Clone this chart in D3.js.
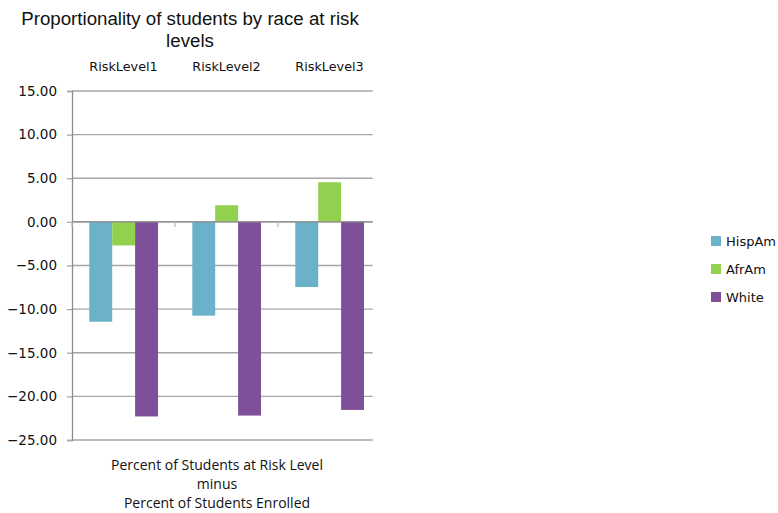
<!DOCTYPE html>
<html>
<head>
<meta charset="utf-8">
<script src="https://cdn.jsdelivr.net/npm/d3@7"></script>
<style>
body { margin: 0; background: #fff; }
svg { display: block; }
</style>
</head>
<body>
<svg id="chart" width="778" height="513"></svg>
<script>
const categories = ["RiskLevel1", "RiskLevel2", "RiskLevel3"];
const seriesNames = ["HispAm", "AfrAm", "White"];
const hispAm = [-11.44, -10.75, -7.47];
const afrAm = [-2.70, 1.91, 4.54];
const white = [-22.30, -22.20, -21.55];
const yTicks = [15, 10, 5, 0, -5, -10, -15, -20, -25];
const colors = ["#6bb1ca", "#92d050", "#7f4f99"];
const titleLines = ["Proportionality of students by race at risk", "levels"];
const xTitleLines = ["Percent of Students at Risk Level", "minus", "Percent of Students Enrolled"];

(function () {
const seriesValues = [hispAm, afrAm, white];
const svg = d3.select("#chart");
const axisFont = "'DejaVu Sans', sans-serif";

const plotLeft = 72, gridRight = 372.7, plotTop = 91, plotBottom = 440;
const x = d3.scaleBand().domain(categories).range([plotLeft, plotLeft + 309]).paddingInner(0).paddingOuter(0);
const y = d3.scaleLinear().domain([-25, 15]).range([plotBottom, plotTop]);
const inner = d3.scaleBand().domain(seriesNames).range([17.3, 86]);

// gridlines
svg.append("g").selectAll("line").data(yTicks).join("line")
  .attr("x1", plotLeft).attr("x2", gridRight)
  .attr("y1", d => y(d)).attr("y2", d => y(d))
  .attr("stroke", "#a6a6a6").attr("stroke-width", 1.3);

// y axis
const yAxis = d3.axisLeft(y).tickValues(yTicks).tickSize(5).tickPadding(10)
  .tickFormat(d3.format(".2f"));
const gy = svg.append("g").attr("transform", `translate(${plotLeft},0)`).call(yAxis);
gy.select(".domain").attr("stroke", "#8c8c8c").attr("stroke-width", 1.3);
gy.selectAll(".tick line").attr("stroke", "#a6a6a6").attr("stroke-width", 1.3);
gy.selectAll(".tick text").attr("font-family", axisFont).attr("font-size", 13.5).attr("fill", "#111");

// bars
categories.forEach((c, ci) => {
  seriesNames.forEach((s, si) => {
    const v = seriesValues[si][ci];
    svg.append("rect")
      .attr("x", x(c) + inner(s))
      .attr("width", inner.bandwidth())
      .attr("y", y(Math.max(0, v)))
      .attr("height", Math.abs(y(v) - y(0)))
      .attr("fill", colors[si]);
  });
});

// zero line and category ticks
svg.append("line").attr("x1", plotLeft).attr("x2", gridRight)
  .attr("y1", y(0)).attr("y2", y(0)).attr("stroke", "#8c8c8c").attr("stroke-width", 1.3);
svg.append("g").selectAll("line").data(categories).join("line")
  .attr("x1", d => x(d)).attr("x2", d => x(d))
  .attr("y1", y(0)).attr("y2", y(0) + 5)
  .attr("stroke", "#bdbdbd").attr("stroke-width", 1.3);

// category labels at top
svg.append("g").selectAll("text").data(categories).join("text")
  .attr("x", d => x(d) + x.bandwidth() / 2)
  .attr("y", 71)
  .attr("text-anchor", "middle")
  .attr("font-family", axisFont).attr("font-size", 12.8)
  .attr("fill", "#111")
  .text(d => d);

// title
svg.append("g").selectAll("text").data(titleLines).join("text")
  .attr("x", 190).attr("y", (d, i) => 25 + i * 22)
  .attr("text-anchor", "middle")
  .attr("font-family", "'Liberation Sans', Arial, sans-serif").attr("font-size", 18.7)
  .attr("fill", "#111")
  .text(d => d);

// x title
svg.append("g").selectAll("text").data(xTitleLines).join("text")
  .attr("x", 217).attr("y", (d, i) => 470 + i * 19)
  .attr("text-anchor", "middle")
  .attr("font-family", "'Open Sans', sans-serif").attr("font-size", 14)
  .attr("fill", "#111")
  .text(d => d);

// legend
const lg = svg.append("g").selectAll("g").data(seriesNames).join("g")
  .attr("transform", (d, i) => `translate(711,${236 + i * 28})`);
lg.append("rect").attr("width", 10).attr("height", 10).attr("fill", (d, i) => colors[i]);
lg.append("text").attr("x", 15).attr("y", 9.5)
  .attr("font-family", axisFont).attr("font-size", 13).attr("fill", "#111")
  .text(d => d);
})();
</script>
</body>
</html>
